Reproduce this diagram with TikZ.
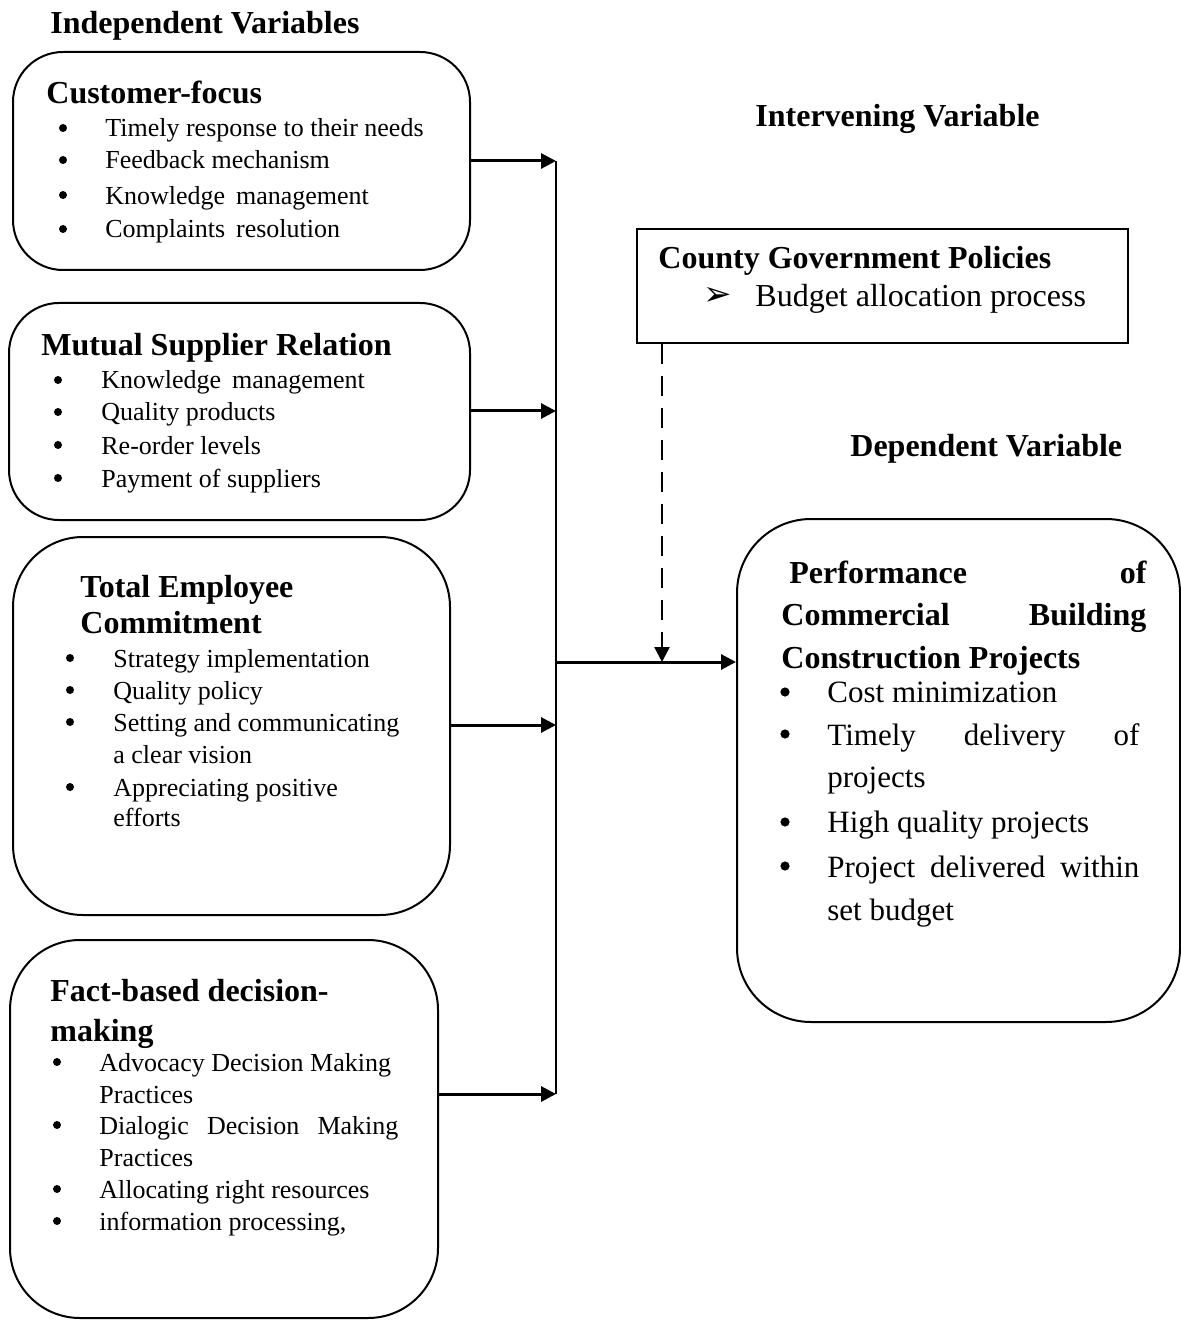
\documentclass[tikz,border=0pt]{standalone}
\usepackage{fontspec}
\setmainfont{Liberation Serif}
\newfontfamily\dejavu{DejaVu Sans}
\usetikzlibrary{arrows.meta}
\tikzset{
  rbox/.style={draw, line width=1pt, rectangle, inner sep=0pt},
  head/.style={anchor=west, inner sep=0pt, font=\fontsize{16}{19}\selectfont\bfseries, text height=11pt, text depth=0pt},
  itm/.style={anchor=west, inner sep=0pt, font=\fontsize{13}{15.6}\selectfont, text height=9pt, text depth=0pt},
  depitm/.style={anchor=west, inner sep=0pt, font=\fontsize{15.5}{18}\selectfont, text height=10.5pt, text depth=0pt},
  bul/.style={circle, fill, inner sep=0pt, minimum size=4pt},
  dbul/.style={circle, fill, inner sep=0pt, minimum size=4.6pt},
  conn/.style={line width=1.5pt, -{Triangle[length=7.5pt,width=7.5pt]}},
  vline/.style={line width=1pt},
}
\begin{document}
\begin{tikzpicture}[x=0.5pt,y=-0.5pt]
\useasboundingbox (0,0) rectangle (1181,1320);
% titles
\node[head] (tind) at (50,23) {Independent Variables};
\node[head] (tint) at (755,116) {Intervening Variable};
\node[head] (tdep) at (850,445) {Dependent Variable};
% boxes
\node[rbox, rounded corners=25pt, minimum width=228.5pt, minimum height=109pt] (b1) at (241.5,161) {};
\node[rbox, rounded corners=25pt, minimum width=230.5pt, minimum height=108.5pt] (b2) at (239.5,411.5) {};
\node[rbox, rounded corners=35pt, minimum width=218.5pt, minimum height=189pt] (b3) at (231.5,726) {};
\node[rbox, rounded corners=35pt, minimum width=214pt, minimum height=189pt] (b4) at (224,1129) {};
\node[rbox, minimum width=245.5pt, minimum height=57pt] (ib) at (882.5,286) {};
\node[rbox, rounded corners=37pt, minimum width=221.5pt, minimum height=251.5pt] (db) at (958.5,770.5) {};
% box 1
\node[head] (h1) at (46,93) {Customer-focus};
\node[bul] (p11) at (63,128) {};
\node[itm] (i11) at (105,128) {Timely response to their needs};
\node[bul] (p12) at (63,160) {};
\node[itm] (i12) at (105,160) {Feedback mechanism};
\node[bul] (p13) at (63,195) {};
\node[itm] (i13) at (105,196) {Knowledge\, management};
\node[bul] (p14) at (63,229) {};
\node[itm] (i14) at (105,229) {Complaints\, resolution};
% box 2
\node[head] (h2) at (41,345) {Mutual Supplier Relation};
\node[bul] (p21) at (58,380) {};
\node[itm] (i21) at (101,380) {Knowledge\, management};
\node[bul] (p22) at (58,412) {};
\node[itm] (i22) at (101,412) {Quality products};
\node[bul] (p23) at (58,445) {};
\node[itm] (i23) at (101,445) {Re-order levels};
\node[bul] (p24) at (58,478) {};
\node[itm] (i24) at (101,478) {Payment of suppliers};
% box 3
\node[head] (h3a) at (80,586) {Total Employee};
\node[head] (h3b) at (80,622) {Commitment};
\node[bul] (p31) at (70,658) {};
\node[itm] (i31) at (113,658) {Strategy implementation};
\node[bul] (p32) at (70,690) {};
\node[itm] (i32) at (113,690) {Quality policy};
\node[bul] (p33) at (70,722) {};
\node[itm] (i33) at (113,722) {Setting and communicating};
\node[itm] (i33b) at (113,754) {a clear vision};
\node[bul] (p34) at (70,787) {};
\node[itm] (i34) at (113,787) {Appreciating positive};
\node[itm] (i34b) at (113,817) {efforts};
% box 4
\node[head] (h4a) at (50,990) {Fact-based decision-};
\node[head] (h4b) at (50,1030) {making};
\node[bul] (p41) at (57,1062) {};
\node[itm] (i41) at (99,1062) {Advocacy Decision Making};
\node[itm] (i41b) at (99,1094) {Practices};
\node[bul] (p42) at (57,1125) {};
\node[itm] (i42) at (99,1125) {\makebox[149.5pt][s]{Dialogic\hfill Decision\hfill Making}};
\node[itm] (i42b) at (99,1157) {Practices};
\node[bul] (p43) at (57,1189) {};
\node[itm] (i43) at (99,1189) {Allocating right resources};
\node[bul] (p44) at (57,1221) {};
\node[itm] (i44) at (99,1221) {information processing,};
% intervening box
\node[head] (hi) at (658,258) {County Government Policies};
\node[inner sep=0pt, font=\dejavu\fontsize{17}{19}\selectfont] (pi) at (718,296) {➢};
\node[anchor=west, inner sep=0pt, font=\fontsize{16}{19}\selectfont, text height=11pt, text depth=0pt] (ii) at (755,296) {Budget allocation process};
% dependent box
\node[head] (hd1) at (789,572) {\makebox[178.5pt][s]{Performance\hfill of}};
\node[head] (hd2) at (781,614) {\makebox[182.5pt][s]{Commercial\hfill Building}};
\node[head] (hd3) at (781,657) {Construction Projects};
\node[dbul] (pd1) at (785,692) {};
\node[depitm] (d1) at (827,692) {Cost minimization};
\node[dbul] (pd2) at (785,734) {};
\node[depitm] (d2) at (827,735) {\makebox[156pt][s]{Timely\hfill delivery\hfill of}};
\node[depitm] (d2b) at (827,777) {projects};
\node[dbul] (pd3) at (785,822) {};
\node[depitm] (d3) at (827,822) {High quality projects};
\node[dbul] (pd4) at (785,866) {};
\node[depitm] (d4) at (827,867) {\makebox[156pt][s]{Project\hfill delivered\hfill within}};
\node[depitm] (d4b) at (827,910) {set budget};
% junction coordinates
\coordinate (j1) at (556,161);
\coordinate (j2) at (556,411);
\coordinate (j3) at (556,725);
\coordinate (j4) at (556,1094);
\coordinate (j5) at (556,662);
\coordinate (jd) at (662,662);
% connectors
\draw[vline] (j1) -- (j4);
\draw[conn] (b1.east |- j1) -- (j1);
\draw[conn] (b2.east |- j2) -- (j2);
\draw[conn] (b3.east |- j3) -- (j3);
\draw[conn] (b4.east |- j4) -- (j4);
\draw[conn] (j5) -- (db.west |- j5);
\draw[conn, line width=1.2pt, dash pattern=on 10pt off 6pt] (ib.south -| jd) -- (jd);
\end{tikzpicture}
\end{document}
